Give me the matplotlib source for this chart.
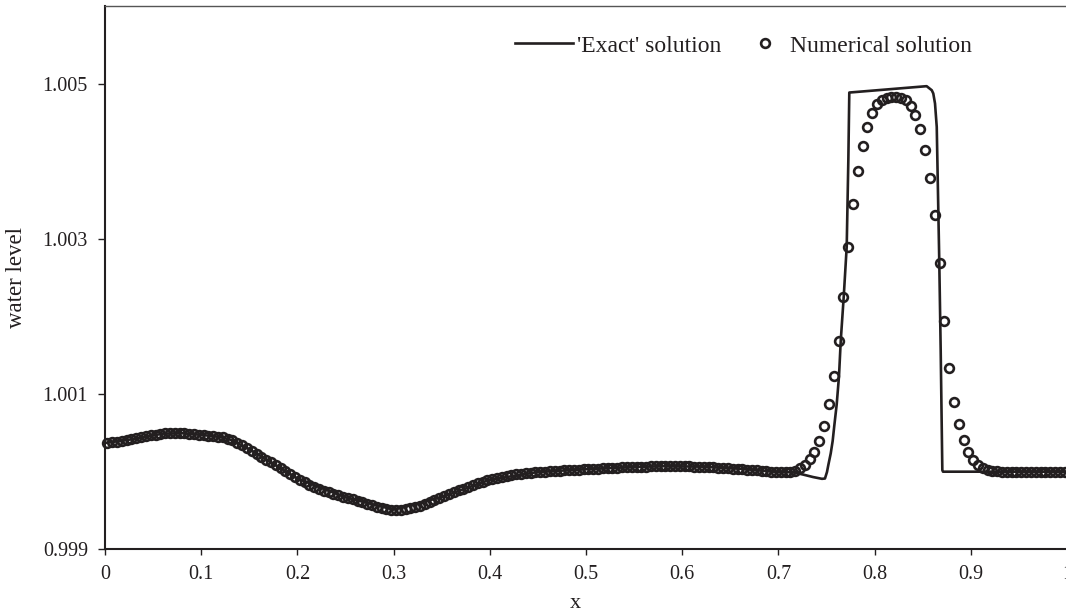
import matplotlib.pyplot as plt
import numpy as np

plt.rcParams['font.family'] = ['Liberation Serif', 'DejaVu Serif']

# Numerical solution: cell-centred values on a uniform mesh of 200 cells over [0, 1]
n_cells = 200
num_x = (np.arange(n_cells) + 0.5) / n_cells
num_level = [
    1.000372, 1.000378, 1.000385, 1.000393, 1.000402, 1.000415, 1.000428, 1.000442, 1.000455, 1.000467,
    1.000478, 1.000486, 1.000492, 1.000496, 1.000497, 1.000496, 1.000493, 1.000489, 1.000484, 1.000478,
    1.000472, 1.000466, 1.000459, 1.000451, 1.000441, 1.000425, 1.000403, 1.000376, 1.000345, 1.000308,
    1.000270, 1.000232, 1.000194, 1.000157, 1.000119, 1.000081, 1.000043, 1.000006, 0.999968, 0.999930,
    0.999894, 0.999862, 0.999832, 0.999804, 0.999778, 0.999754, 0.999732, 0.999712, 0.999694, 0.999678,
    0.999662, 0.999645, 0.999627, 0.999608, 0.999588, 0.999568, 0.999548, 0.999532, 0.999520, 0.999512,
    0.999510, 0.999512, 0.999518, 0.999528, 0.999542, 0.999560, 0.999582, 0.999606, 0.999634, 0.999660,
    0.999686, 0.999710, 0.999734, 0.999758, 0.999782, 0.999806, 0.999828, 0.999848, 0.999868, 0.999887,
    0.999904, 0.999920, 0.999934, 0.999947, 0.999958, 0.999968, 0.999976, 0.999983, 0.999989, 0.999994,
    0.999998, 1.000002, 1.000006, 1.000010, 1.000014, 1.000018, 1.000021, 1.000024, 1.000027, 1.000030,
    1.000033, 1.000036, 1.000039, 1.000042, 1.000045, 1.000048, 1.000051, 1.000054, 1.000057, 1.000060,
    1.000062, 1.000064, 1.000066, 1.000068, 1.000069, 1.000070, 1.000071, 1.000071, 1.000071, 1.000070,
    1.000069, 1.000068, 1.000066, 1.000064, 1.000062, 1.000059, 1.000056, 1.000052, 1.000048, 1.000044,
    1.000040, 1.000036, 1.000031, 1.000026, 1.000021, 1.000016, 1.000011, 1.000006, 1.000001, 0.999997,
    0.999994, 0.999992, 0.999996, 1.000010, 1.000042, 1.000086, 1.000159, 1.000249, 1.000395, 1.000592,
    1.000867, 1.001232, 1.001686, 1.002253, 1.002893, 1.003447, 1.003876, 1.004198, 1.004442, 1.004615,
    1.004731, 1.004786, 1.004812, 1.004825, 1.004825, 1.004812, 1.004786, 1.004709, 1.004593, 1.004409,
    1.004142, 1.003786, 1.003305, 1.002687, 1.001940, 1.001335, 1.000897, 1.000614, 1.000408, 1.000253,
    1.000150, 1.000086, 1.000047, 1.000021, 1.000008, 1.000003, 1.000001, 1.000000, 1.000000, 1.000000,
    1.000000, 1.000000, 1.000000, 1.000000, 1.000000, 1.000000, 1.000000, 1.000000, 1.000000, 1.000000,
]

# Reference ("exact") solution
exact_x = [0.0, 0.03, 0.06, 0.08, 0.10, 0.12, 0.13, 0.15, 0.20, 0.25, 0.30, 0.35, 0.40, 0.45,
           0.50, 0.55, 0.58, 0.62, 0.66, 0.70, 0.715, 0.7256, 0.736, 0.7453, 0.7484, 0.7505,
           0.7519, 0.7544, 0.7564, 0.7581, 0.7606, 0.7630, 0.7648, 0.7679, 0.7710, 0.7727,
           0.7737, 0.8541, 0.8594, 0.8610, 0.8628, 0.8646, 0.8659, 0.8672, 0.8687, 0.8704,
           0.8711, 1.0]
exact_level = [1.000370, 1.000421, 1.000490, 1.000495, 1.000475, 1.000446, 1.000414, 1.000290,
               0.999912, 0.999670, 0.999511, 0.999673, 0.999896, 0.999996, 1.000032, 1.000061,
               1.000071, 1.000065, 1.000038, 0.999995, 0.999993, 0.999963, 0.999931, 0.999908,
               0.999912, 0.999996, 1.000086, 1.000236, 1.000395, 1.000592, 1.000867, 1.001232,
               1.001686, 1.002253, 1.002897, 1.004013, 1.004885, 1.004967, 1.004915, 1.004873,
               1.004744, 1.004442, 1.003585, 1.002726, 1.001567, 1.000021, 1.000000, 1.000000]

x_ticks = [0, 0.1, 0.2, 0.3, 0.4, 0.5, 0.6, 0.7, 0.8, 0.9, 1.0]
x_tick_labels = ['0', '0.1', '0.2', '0.3', '0.4', '0.5', '0.6', '0.7', '0.8', '0.9', '1']
y_ticks = [0.999, 1.001, 1.003, 1.005]
y_tick_labels = ['0.999', '1.001', '1.003', '1.005']

ink = '#231f20'

fig = plt.figure(figsize=(10.66, 6.16), dpi=100)
ax = fig.add_axes([105 / 1066, 66.7 / 616, 962 / 1066, 543.3 / 616])

line_exact, = ax.plot(exact_x, exact_level, color=ink, lw=1.9, zorder=2,
                      solid_joinstyle='round', label="'Exact' solution")
pts_num, = ax.plot(num_x, num_level, ls='none', marker='o', ms=6.3, mew=1.9,
                   mfc='none', mec=ink, zorder=3, clip_on=False,
                   label='Numerical solution')

ax.set_xlim(0, 1)
ax.set_ylim(0.999, 1.006)
ax.set_xticks(x_ticks)
ax.set_xticklabels(x_tick_labels)
ax.set_yticks(y_ticks)
ax.set_yticklabels(y_tick_labels)
ax.tick_params(axis='both', direction='out', color=ink, labelcolor=ink,
               labelsize=14.5, width=1.0)
ax.tick_params(axis='y', length=5.3, pad=7)
ax.tick_params(axis='x', length=4.5, pad=7)

for side in ['left', 'bottom']:
    ax.spines[side].set_linewidth(1.5)
    ax.spines[side].set_color(ink)
ax.spines['top'].set_linewidth(1.0)
ax.spines['top'].set_color('#555555')
ax.spines['right'].set_visible(False)

ax.set_xlabel('x', fontsize=16, color=ink)
ax.xaxis.set_label_coords(0.489, -0.083)
ax.set_ylabel('water level', fontsize=16.5, color=ink)
ax.yaxis.set_label_coords(-0.081, 0.5)

# Two separate legend entries so the marker sits close to its text
leg1 = ax.legend(handles=[line_exact], loc='center left', bbox_to_anchor=(0.4262, 0.9264),
                 frameon=False, fontsize=17, handlelength=2.46, handletextpad=0.17,
                 borderpad=0, borderaxespad=0, labelcolor=ink)
ax.add_artist(leg1)
ax.legend(handles=[pts_num], loc='center left', bbox_to_anchor=(0.6741, 0.9264),
          frameon=False, fontsize=17, handlelength=1.0, handletextpad=0.55,
          borderpad=0, borderaxespad=0, numpoints=1, labelcolor=ink)

fig.savefig('out.png', dpi=100)
